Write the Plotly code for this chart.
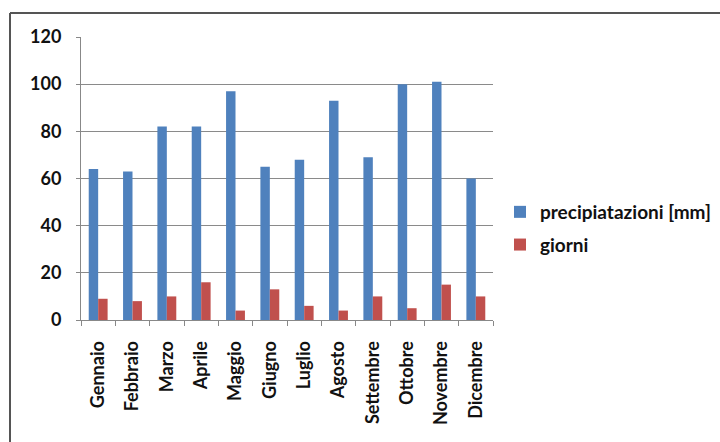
import plotly.graph_objects as go

mesi = ["Gennaio", "Febbraio", "Marzo", "Aprile", "Maggio", "Giugno",
        "Luglio", "Agosto", "Settembre", "Ottobre", "Novembre", "Dicembre"]
precipitazioni_mm = [64, 63, 82, 82, 97, 65, 68, 93, 69, 100, 101, 60]
giorni_pioggia = [9, 8, 10, 16, 4, 13, 6, 4, 10, 5, 15, 10]
y_ticks = [0, 20, 40, 60, 80, 100, 120]

W, H = 720, 442
L, R, T, B = 81, 227, 37, 122
pw, ph = W - L - R, H - T - B

def px_x(p):
    return (p - L) / pw

def px_y(p):
    return (H - B - p) / ph

FONT = "Lato, 'Open Sans', sans-serif"
TXT = dict(family=FONT, size=18, color="#111", weight="bold")
LEG = dict(family=FONT, size=19, color="#111", weight="bold")

fig = go.Figure()
fig.add_trace(go.Bar(x=mesi, y=precipitazioni_mm, name="precipiatazioni [mm]",
                     marker=dict(color="#4F81BD", line=dict(width=0)),
                     legendgroup="a"))
fig.add_trace(go.Bar(x=mesi, y=giorni_pioggia, name="giorni",
                     marker=dict(color="#C0504D", line=dict(width=0)),
                     legendgroup="b"))

fig.update_layout(
    width=W, height=H,
    margin=dict(l=L, r=R, t=T, b=B, autoexpand=False),
    paper_bgcolor="white", plot_bgcolor="white",
    barmode="group", bargap=0.45, bargroupgap=0,
    font=TXT,
    showlegend=True,
    legend=dict(x=px_x(500), y=px_y(193), xanchor="left", yanchor="top",
                traceorder="grouped", tracegroupgap=5,
                font=LEG, bgcolor="rgba(0,0,0,0)"),
    xaxis=dict(type="category", showgrid=False, showline=True,
               linecolor="#888", linewidth=1, ticks="outside",
               tickson="boundaries", ticklen=5, tickcolor="#888",
               tickangle=-90, tickfont=TXT, ticklabelstandoff=13,
               fixedrange=True),
    yaxis=dict(range=[0, 120], tickvals=y_ticks, showgrid=True,
               gridcolor="#8a8a8a", gridwidth=1, showline=True,
               linecolor="#888", linewidth=1, ticks="outside", ticklen=4,
               tickcolor="#888", zeroline=False,
               tickfont=TXT, ticklabelstandoff=11,
               fixedrange=True),
    shapes=[
        dict(type="line", xref="paper", yref="paper",
             x0=px_x(10), x1=px_x(725), y0=px_y(13), y1=px_y(13),
             line=dict(color="#555", width=2)),
        dict(type="line", xref="paper", yref="paper",
             x0=px_x(10), x1=px_x(10), y0=px_y(13), y1=px_y(450),
             line=dict(color="#555", width=2)),
    ],
)

fig.write_html("out.html")
